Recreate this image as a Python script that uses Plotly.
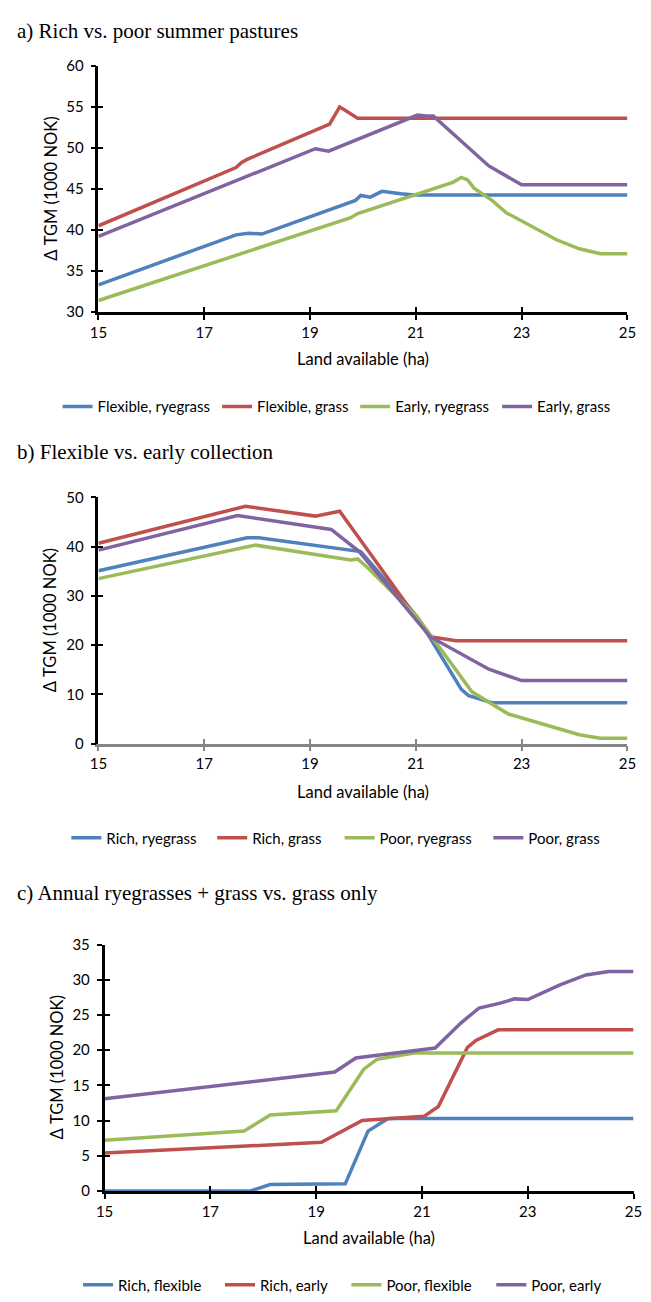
import plotly.graph_objects as go

W, H = 651, 1302
BLUE, RED, GREEN, PURPLE = "#4F81BD", "#C0504D", "#9BBB59", "#8064A2"

# ---------------- data ----------------
x_ticks = [15, 17, 19, 21, 23, 25]

# a) Rich vs. poor summer pastures
a_names = ["Flexible, ryegrass", "Flexible, grass", "Early, ryegrass", "Early, grass"]
a_flex_rye_x = [15, 17.6, 17.84, 18.09, 19.86, 19.96, 20.14, 20.36, 20.72, 20.97, 25]
a_flex_rye_y = [33.3, 39.4, 39.6, 39.5, 43.6, 44.2, 44.0, 44.7, 44.4, 44.25, 44.25]
a_flex_grass_x = [15, 17.6, 17.7, 17.81, 19.37, 19.56, 19.9, 25]
a_flex_grass_y = [40.5, 47.6, 48.2, 48.6, 52.9, 55.0, 53.6, 53.6]
a_early_rye_x = [15, 19.77, 19.9, 21.7, 21.86, 21.98, 22.1, 22.44, 22.71, 23.66, 24.09, 24.49, 25]
a_early_rye_y = [31.4, 41.5, 42.0, 45.8, 46.4, 46.1, 45.1, 43.6, 42.1, 38.8, 37.7, 37.1, 37.1]
a_early_grass_x = [15, 19.1, 19.35, 21.03, 21.2, 21.33, 22.38, 23.0, 25]
a_early_grass_y = [39.2, 49.9, 49.6, 54.0, 53.9, 53.9, 47.8, 45.5, 45.5]

# b) Flexible vs. early collection
b_names = ["Rich, ryegrass", "Rich, grass", "Poor, ryegrass", "Poor, grass"]
b_rich_rye_x = [15, 17.81, 18.03, 19.8, 19.96, 21.03, 21.86, 22.0, 22.44, 25]
b_rich_rye_y = [35.1, 41.8, 41.8, 39.1, 39.0, 25.7, 11.0, 9.7, 8.3, 8.3]
b_rich_grass_x = [15, 17.78, 19.1, 19.56, 21.27, 21.76, 25]
b_rich_grass_y = [40.7, 48.2, 46.2, 47.2, 21.7, 20.9, 20.9]
b_poor_rye_x = [15, 17.97, 19.77, 19.9, 20.09, 21.03, 22.06, 22.75, 24.09, 24.49, 25]
b_poor_rye_y = [33.5, 40.3, 37.3, 37.5, 35.7, 25.7, 10.5, 6.0, 1.8, 1.1, 1.1]
b_poor_grass_x = [15, 17.63, 19.4, 19.93, 21.27, 22.38, 23.0, 25]
b_poor_grass_y = [39.3, 46.3, 43.5, 39.0, 21.7, 15.1, 12.8, 12.8]

# c) Annual ryegrasses + grass vs. grass only
c_names = ["Rich, flexible", "Rich, early", "Poor, flexible", "Poor, early"]
c_rich_flex_x = [15, 17.76, 18.13, 19.55, 19.98, 20.36, 25]
c_rich_flex_y = [0, 0, 0.9, 1.0, 8.5, 10.3, 10.3]
c_rich_early_x = [15, 19.1, 19.87, 20.36, 21.04, 21.31, 21.86, 22.02, 22.44, 25]
c_rich_early_y = [5.4, 6.9, 10.0, 10.3, 10.6, 12.0, 20.4, 21.4, 22.9, 22.9]
c_poor_flex_x = [15, 17.64, 18.13, 19.38, 19.9, 20.15, 20.85, 25]
c_poor_flex_y = [7.2, 8.5, 10.8, 11.4, 17.3, 18.7, 19.6, 19.6]
c_poor_early_x = [15, 19.35, 19.75, 20.15, 21.25, 21.74, 22.08, 22.48, 22.75, 23.0, 23.61, 24.1, 24.53, 25]
c_poor_early_y = [13.1, 16.9, 18.9, 19.3, 20.3, 23.9, 26.0, 26.7, 27.3, 27.2, 29.3, 30.7, 31.2, 31.2]

titles = ["a) Rich vs. poor summer pastures",
          "b) Flexible vs. early collection",
          "c) Annual ryegrasses + grass vs. grass only"]
x_title = "Land available (ha)"
y_title = "Δ TGM (1000 NOK)"

# ---------------- layout helpers ----------------
def fx(p):
    return p / W

def fy(p):
    return 1 - p / H

SANS = "Lato"
SERIF = "Liberation Serif"
colors = [BLUE, RED, GREEN, PURPLE]
TICK_FS = 15
TITLE_FS = 16.5
LEG_FS = 15
PANEL_TITLE_FS = 21

panels = [
    dict(series=[(a_flex_rye_x, a_flex_rye_y), (a_flex_grass_x, a_flex_grass_y),
                 (a_early_rye_x, a_early_rye_y), (a_early_grass_x, a_early_grass_y)],
         names=a_names, px=(92, 636), py=(56.7, 306.7), yr=(30, 60), dt=5,
         xcol="black", title_y=21, xt_y=354, yt_x=43, leg_y=403,
         leg_text_x=[92, 256, 398, 544]),
    dict(series=[(b_rich_rye_x, b_rich_rye_y), (b_rich_grass_x, b_rich_grass_y),
                 (b_poor_rye_x, b_poor_rye_y), (b_poor_grass_x, b_poor_grass_y)],
         names=b_names, px=(92, 636), py=(495, 745), yr=(0, 50), dt=10,
         xcol="#868686", title_y=449, xt_y=794, yt_x=43, leg_y=841,
         leg_text_x=[101, 251, 382, 535]),
    dict(series=[(c_rich_flex_x, c_rich_flex_y), (c_rich_early_x, c_rich_early_y),
                 (c_poor_flex_x, c_poor_flex_y), (c_poor_early_x, c_poor_early_y)],
         names=c_names, px=(98.3, 642.3), py=(949.3, 1199.3), yr=(0, 35), dt=5,
         xcol="black", title_y=897, xt_y=1247, yt_x=49, leg_y=1295,
         leg_text_x=[113, 259, 389, 538]),
]

fig = go.Figure()
layout = dict(width=W, height=H, margin=dict(l=0, r=0, t=0, b=0),
              paper_bgcolor="white", plot_bgcolor="white", showlegend=True,
              font=dict(family=SANS, size=TICK_FS, color="black"))
annotations = []
leg_count = 0

for i, p in enumerate(panels):
    k = i + 1
    sx = "" if k == 1 else str(k)
    ox = str(k + 3)
    xref, yref = "x" + sx, "y" + sx
    for j, ((xs, ys), nm, col) in enumerate(zip(p["series"], p["names"], colors)):
        leg_count += 1
        leg = "legend" if leg_count == 1 else "legend" + str(leg_count)
        fig.add_trace(go.Scatter(x=xs, y=ys, mode="lines", name=nm,
                                 line=dict(color=col, width=3.5),
                                 xaxis=xref, yaxis=yref, legend=leg,
                                 hoverinfo="skip"))
        layout[leg] = dict(orientation="h", x=fx(p["leg_text_x"][j] - 42),
                           xanchor="left", y=fy(p["leg_y"]), yanchor="middle",
                           font=dict(family=SANS, size=LEG_FS, color="black"),
                           bgcolor="rgba(0,0,0,0)", itemwidth=30, borderwidth=0)
    # dummy traces for overlay (inside-tick) axes
    fig.add_trace(go.Scatter(x=[None], y=[None], xaxis="x" + ox, yaxis=yref,
                             showlegend=False, hoverinfo="skip"))
    fig.add_trace(go.Scatter(x=[None], y=[None], xaxis=xref, yaxis="y" + ox,
                             showlegend=False, hoverinfo="skip"))
    dx = [fx(p["px"][0]), fx(p["px"][1])]
    dy = [fy(p["py"][1]), fy(p["py"][0])]
    yt = list(range(p["yr"][0], p["yr"][1] + 1, p["dt"]))
    layout["xaxis" + sx] = dict(domain=dx, anchor=yref, range=[15, 25],
                                tickvals=x_ticks, ticks="outside", ticklen=5,
                                tickwidth=2, tickcolor=p["xcol"], showline=True,
                                linecolor=p["xcol"], linewidth=2.5, showgrid=False,
                                zeroline=False, tickfont=dict(family=SANS, size=TICK_FS),
                                fixedrange=True)
    layout["yaxis" + sx] = dict(domain=dy, anchor=xref, range=list(p["yr"]),
                                tickvals=yt, ticks="outside", ticklen=5,
                                tickwidth=2, tickcolor="black", showline=True,
                                linecolor="black", linewidth=2.5, showgrid=False,
                                zeroline=False, tickfont=dict(family=SANS, size=TICK_FS),
                                ticklabelstandoff=4, fixedrange=True)
    layout["xaxis" + ox] = dict(overlaying=xref, anchor=yref, range=[15, 25],
                                tickvals=x_ticks, ticks="inside", ticklen=5,
                                tickwidth=2, tickcolor=p["xcol"], showline=False,
                                showticklabels=False, showgrid=False, zeroline=False,
                                side="bottom", fixedrange=True)
    layout["yaxis" + ox] = dict(overlaying=yref, anchor=xref, range=list(p["yr"]),
                                tickvals=yt, ticks="inside", ticklen=5,
                                tickwidth=2, tickcolor="black", showline=False,
                                showticklabels=False, showgrid=False, zeroline=False,
                                side="left", fixedrange=True)
    annotations.append(dict(text=titles[i], xref="paper", yref="paper", x=fx(6),
                            y=fy(p["title_y"]), xanchor="left", yanchor="middle",
                            showarrow=False,
                            font=dict(family=SERIF, size=PANEL_TITLE_FS, color="black")))
    annotations.append(dict(text=x_title, xref="paper", yref="paper",
                            x=fx((p["px"][0] + p["px"][1]) / 2), y=fy(p["xt_y"]),
                            xanchor="center", yanchor="middle", showarrow=False,
                            font=dict(family=SANS, size=TITLE_FS, color="black")))
    annotations.append(dict(text=y_title, xref="paper", yref="paper", x=fx(p["yt_x"]),
                            y=fy((p["py"][0] + p["py"][1]) / 2), xanchor="center",
                            yanchor="middle", textangle=-90, showarrow=False,
                            font=dict(family=SANS, size=TITLE_FS, color="black")))

layout["annotations"] = annotations
fig.update_layout(**layout)
fig.write_html("out.html")
